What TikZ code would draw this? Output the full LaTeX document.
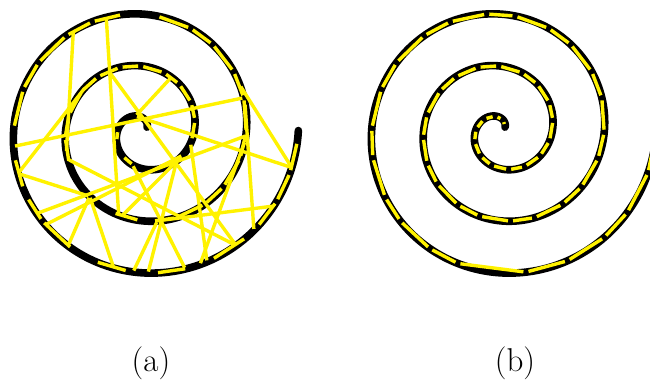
\documentclass[tikz,border=0pt]{standalone}
\usepackage{fontspec}
\usepackage{tikz}
\newcommand{\sprad}[1]{0.1444*(#1-4)}

\begin{document}
\begin{tikzpicture}[x=1pt, y=1pt,
    spiral/.style={line width=7.6pt, black, line cap=round, line join=round},
    link/.style={line width=3.4pt, yellow, shorten <=2.6pt, shorten >=2.6pt},
    chord/.style={line width=3.4pt, yellow, shorten <=1.5pt, shorten >=1.5pt},
    caption/.style={font=\fontsize{33}{38}\selectfont, anchor=base}]
  \clip (0,0) rectangle (650,381);
  \coordinate (ca) at (143,250.5);
  \coordinate (cb) at (501,250.5);
  \begin{scope}[shift={(ca)}]
    \draw[spiral] plot[domain=40:1080, samples=420, smooth] (\x:{\sprad{\x}});
    \foreach \ta/\tb in {178/203, 231/255, 303/327, 348/371, 371/390, 390/412,
        412/430, 430/452, 452/470, 470/490, 490/507, 507/528, 528/545, 545/564,
        610/628, 636/651, 651/670, 670/685, 685/704, 704/719, 719/738, 738/753,
        753/771, 771/785, 785/803, 820/835, 835/849, 849/867, 867/881, 881/899,
        912/926, 930/942, 942/959, 970/984, 995/1008, 1018/1034, 1040/1052,
        1052/1064, 1064/1076}
      \draw[link] (\ta:{\sprad{\ta}}) -- (\tb:{\sprad{\tb}});
    \foreach \ta/\tb in {845/556, 828/614, 480/1029, 117/422, 907/738, 117/1066,
        745/1066, 919/503, 919/591, 938/717, 944/328, 561/1029, 591/957,
        591/978, 616/322, 253/1007, 639/986, 992/318, 345/1016, 1013/714,
        637/1050, 735/1038}
      \draw[chord] (\ta:{\sprad{\ta}}) -- (\tb:{\sprad{\tb}});
  \end{scope}
  \begin{scope}[shift={(cb)}]
    \draw[spiral] plot[domain=40:1080, samples=420, smooth] (\x:{\sprad{\x}});
    \foreach \t [remember=\t as \tp (initially 44)] in {80, 112, 146, 177, 203,
        231, 255, 281, 303, 327, 348, 371, 390, 412, 430, 452, 470, 490, 507,
        528, 545, 564, 580, 600, 616, 636, 651, 670, 685, 704, 719, 738, 753,
        771, 785, 803, 817, 835, 849, 867, 881, 899, 912, 930, 942, 959, 972,
        1000, 1017, 1034, 1047, 1064, 1080}
      \draw[link] (\tp:{\sprad{\tp}}) -- (\t:{\sprad{\t}});
  \end{scope}
  \node[caption] (la) at (151,10) {(a)};
  \node[caption] (lb) at (515,10) {(b)};
\end{tikzpicture}
\end{document}
